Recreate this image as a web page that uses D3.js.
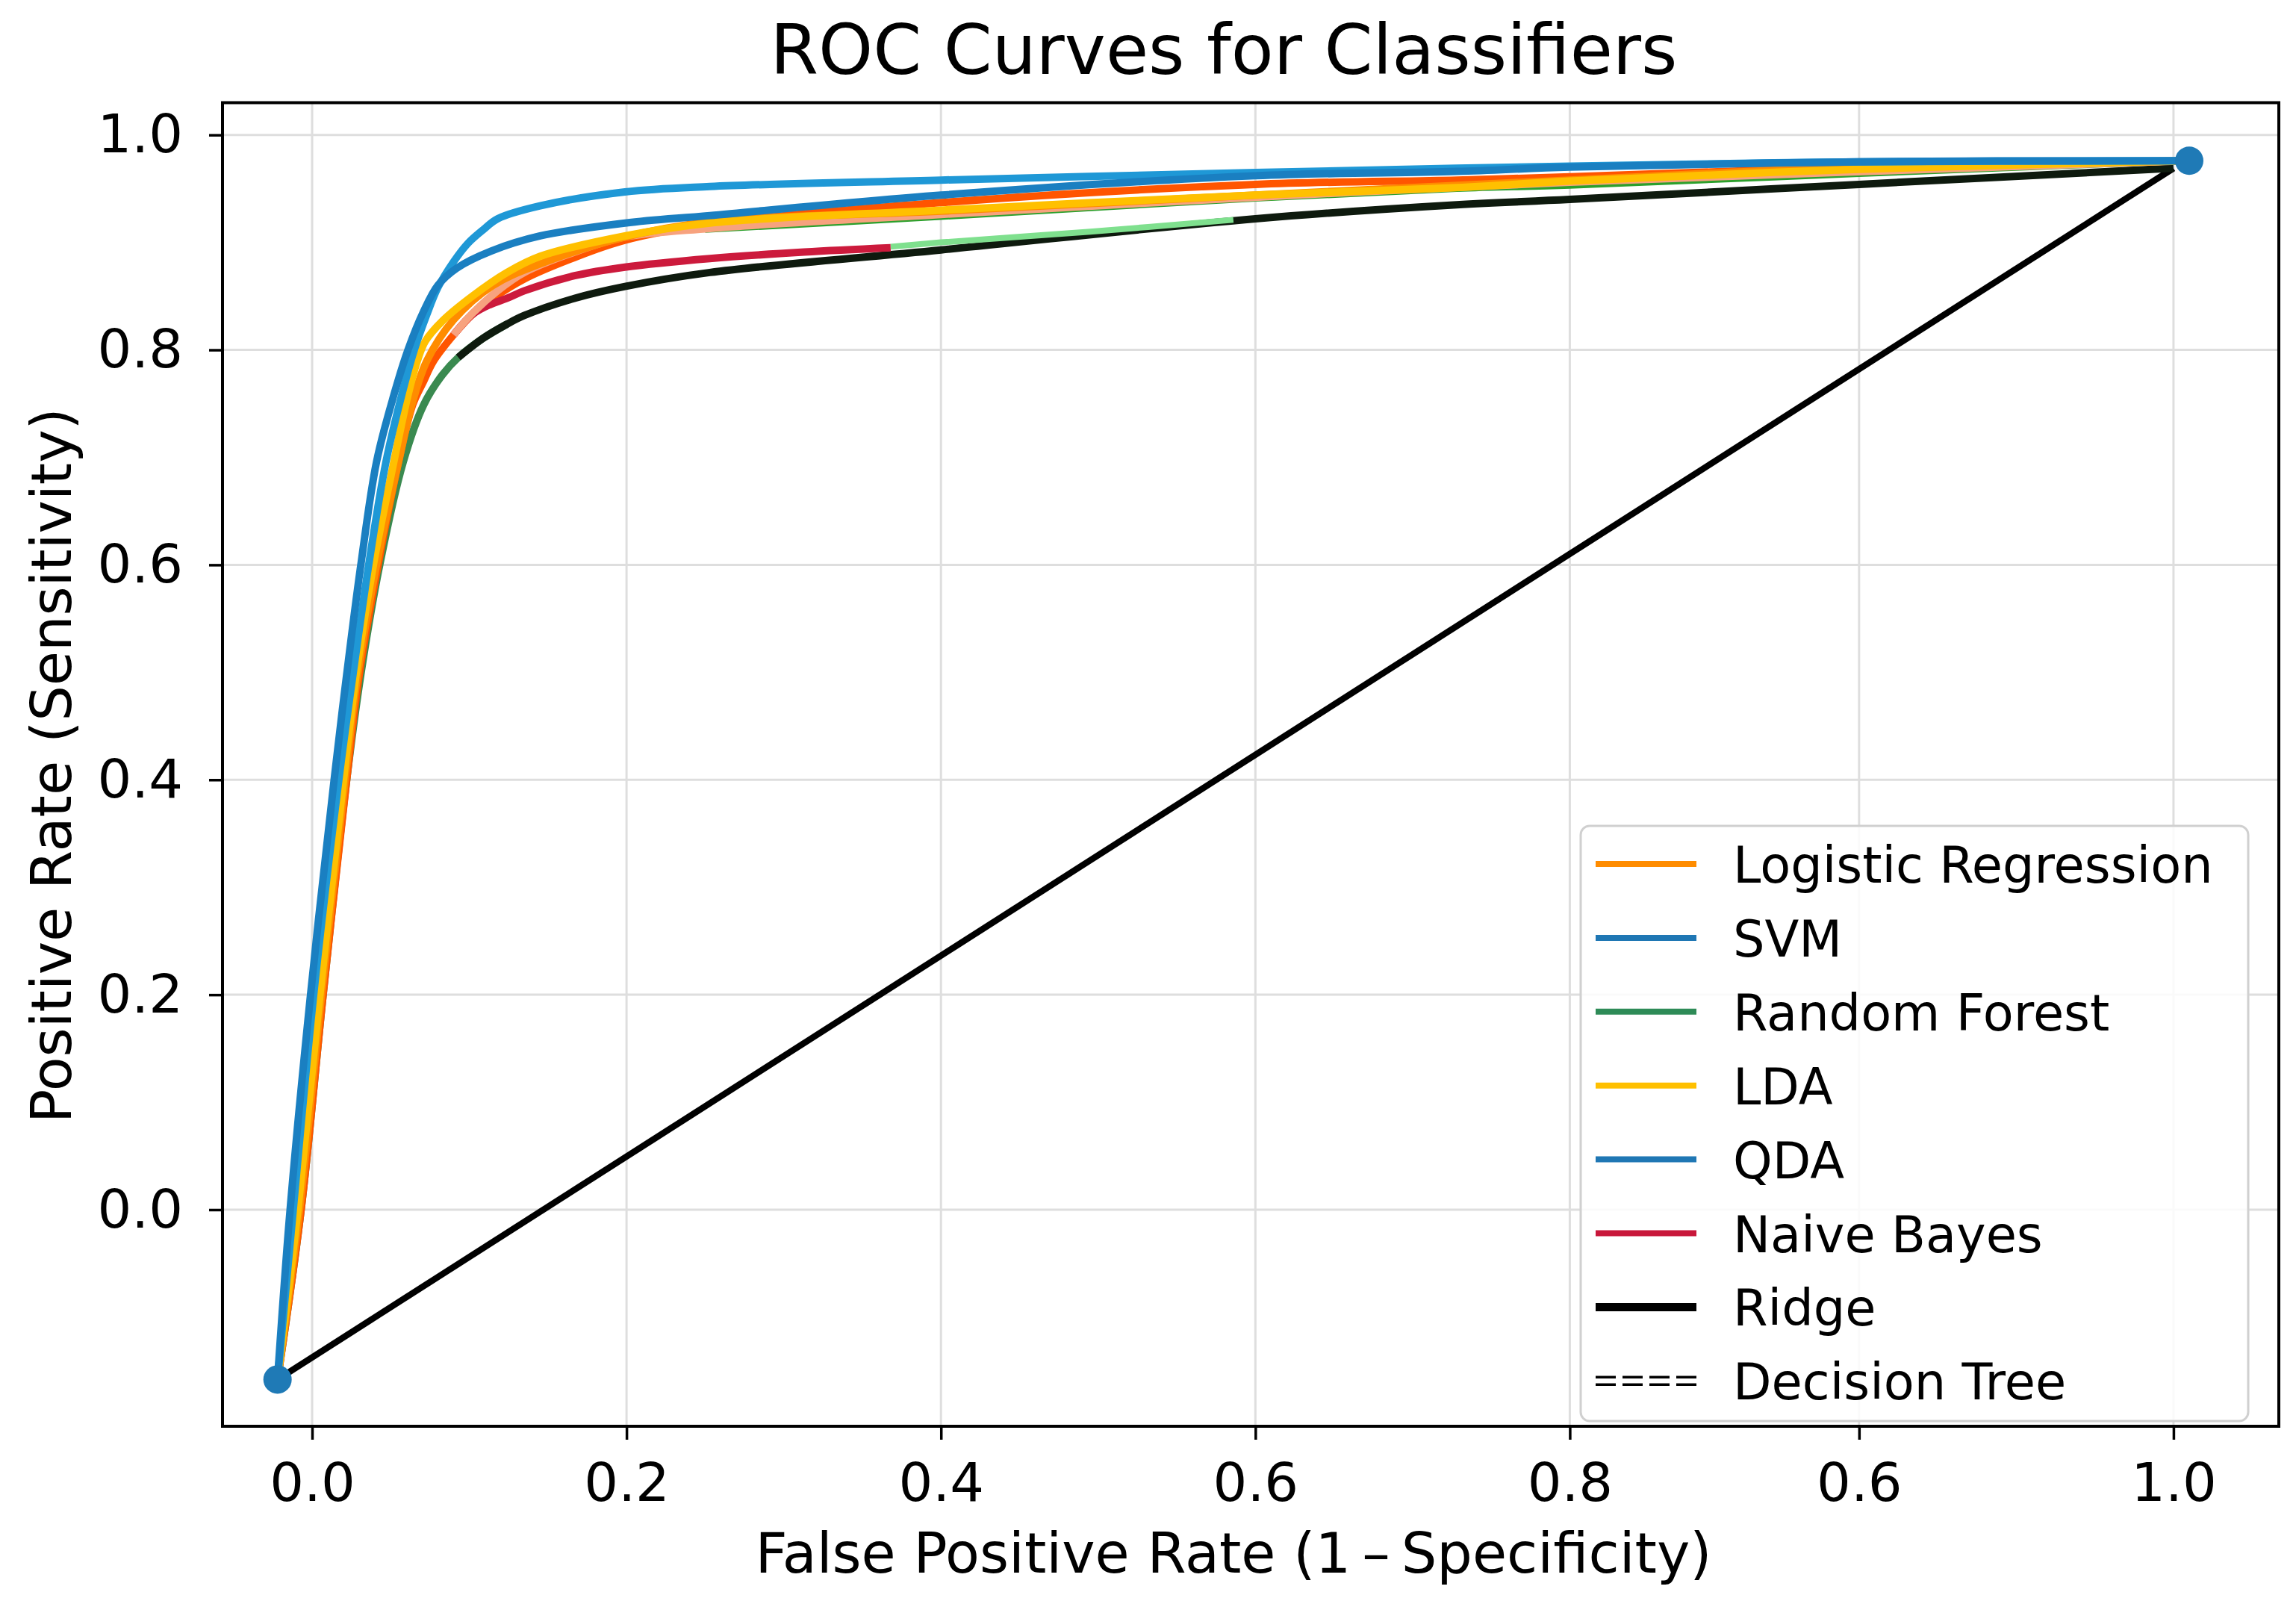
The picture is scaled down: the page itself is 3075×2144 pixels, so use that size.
<!DOCTYPE html>
<html>
<head>
<meta charset="utf-8">
<script src="https://cdn.jsdelivr.net/npm/d3@7"></script>
<style>
  body { margin: 0; background: #fff; }
  text { font-family: "DejaVu Sans", sans-serif; fill: #000; }
</style>
</head>
<body>
<div id="chart"></div>
<script>
// tick values (in plot units) and the labels printed under them
var xTickValues = [0, 0.2, 0.4, 0.6, 0.8, 0.984, 1.184];
var xTickLabels = ["0.0", "0.2", "0.4", "0.6", "0.8", "0.6", "1.0"];
var yTickValues = [0, 0.2, 0.4, 0.6, 0.8, 1.0];

// curves as [fpr, tpr]
var qdaPoints = [[-0.022,-0.158],[-0.012,0.0],[0.001,0.2],[0.017,0.4],[0.026,0.498],[0.036,0.6],[0.047,0.696],[0.057,0.758],[0.065,0.800],[0.073,0.833],[0.080,0.858],[0.090,0.882],[0.099,0.899],[0.109,0.912],[0.118,0.922],[0.145,0.934],[0.199,0.947],[0.253,0.952],[0.4,0.958],[0.6,0.965],[0.728,0.969],[0.8,0.971],[0.984,0.975],[1.194,0.976]];
var svmPoints = [[-0.022,-0.158],[-0.014,0.0],[-0.001,0.2],[0.014,0.4],[0.022,0.498],[0.031,0.6],[0.041,0.696],[0.052,0.758],[0.061,0.800],[0.071,0.836],[0.080,0.860],[0.092,0.876],[0.114,0.892],[0.145,0.906],[0.199,0.918],[0.253,0.925],[0.4,0.944],[0.6,0.962],[0.728,0.966],[0.8,0.970],[0.984,0.975],[1.194,0.976]];
var ldaPoints = [[-0.022,-0.158],[-0.009,0.0],[0.005,0.2],[0.020,0.4],[0.028,0.498],[0.039,0.6],[0.052,0.696],[0.061,0.758],[0.067,0.790],[0.072,0.808],[0.083,0.827],[0.102,0.850],[0.124,0.872],[0.145,0.887],[0.199,0.906],[0.253,0.918],[0.4,0.930],[0.6,0.944],[0.728,0.951],[0.8,0.957],[0.984,0.968],[1.194,0.976]];
var lrPoints = [[-0.022,-0.158],[-0.008,0.0],[0.006,0.2],[0.021,0.4],[0.029,0.498],[0.041,0.6],[0.055,0.696],[0.064,0.752],[0.073,0.790],[0.090,0.828],[0.115,0.860],[0.145,0.880],[0.199,0.905],[0.253,0.919],[0.4,0.929],[0.6,0.944],[0.8,0.958],[0.984,0.970],[1.194,0.976]];
var redOrangePoints = [[-0.022,-0.158],[-0.007,0.0],[0.007,0.2],[0.022,0.4],[0.030,0.498],[0.042,0.6],[0.055,0.696],[0.064,0.749],[0.071,0.771],[0.077,0.789],[0.090,0.814],[0.102,0.833],[0.115,0.848],[0.135,0.866],[0.167,0.886],[0.199,0.902],[0.253,0.917],[0.4,0.937],[0.6,0.954],[0.728,0.958],[0.8,0.961],[0.984,0.970],[1.194,0.976]];
var salmonPoints = [[0.090,0.814],[0.102,0.834],[0.118,0.855],[0.135,0.872],[0.167,0.891],[0.199,0.905],[0.253,0.913],[0.4,0.926],[0.6,0.942],[0.8,0.956],[1.194,0.976]];
var nbPoints = [[0.090,0.814],[0.102,0.833],[0.113,0.842],[0.124,0.848],[0.135,0.855],[0.167,0.869],[0.199,0.877],[0.253,0.885],[0.313,0.891],[0.368,0.895]];
var lightGreenPoints = [[0.368,0.896],[0.4,0.900],[0.495,0.910],[0.586,0.921]];
var thinGreenPoints = [[0.25,0.911],[0.4,0.923],[0.6,0.940],[0.728,0.949],[0.8,0.952],[0.984,0.963],[1.194,0.975]];
var rfPoints = [[-0.022,-0.158],[-0.007,0.0],[0.007,0.2],[0.022,0.4],[0.031,0.498],[0.043,0.6],[0.058,0.696],[0.071,0.749],[0.083,0.777],[0.093,0.793],[0.109,0.811],[0.124,0.824]];
var ridgePoints = [[0.093,0.793],[0.109,0.811],[0.124,0.824],[0.135,0.832],[0.167,0.848],[0.199,0.859],[0.253,0.872],[0.4,0.893],[0.6,0.922],[0.728,0.935],[0.8,0.940],[0.984,0.954],[1.184,0.969]];
var diagonalPoints = [[-0.022,-0.158],[1.184,0.969]];
var endPoints = [[-0.022,-0.158],[1.194,0.976]];

var legendNames = ["Logistic Regression", "SVM", "Random Forest", "LDA", "QDA", "Naive Bayes", "Ridge", "Decision Tree"];
var legendColors = ["#ff8c00", "#1f77b4", "#2e8b57", "#ffc000", "#1f77b4", "#c8173a", "#000000", "#000000"];

var W = 3075, H = 2144;
var plotLeft = 298, plotRight = 3052, plotTop = 137.5, plotBottom = 1910;

var svg = d3.select("#chart").append("svg")
    .attr("width", W)
    .attr("height", H)
    .style("background", "#fff");

var x = d3.scaleLinear().domain([-0.057, 1.251]).range([plotLeft, plotRight]);
var y = d3.scaleLinear().domain([-0.2015, 1.030]).range([plotBottom, plotTop]);

// title
svg.append("text")
    .attr("x", 1639).attr("y", 99)
    .attr("text-anchor", "middle")
    .style("font-size", "93px")
    .text("ROC Curves for Classifiers");

// grid
svg.append("g").selectAll("line").data(xTickValues).enter().append("line")
    .attr("x1", d => x(d)).attr("x2", d => x(d))
    .attr("y1", plotTop).attr("y2", plotBottom)
    .attr("stroke", "#dedede").attr("stroke-width", 3);
svg.append("g").selectAll("line").data(yTickValues).enter().append("line")
    .attr("x1", plotLeft).attr("x2", plotRight)
    .attr("y1", d => y(d)).attr("y2", d => y(d))
    .attr("stroke", "#dedede").attr("stroke-width", 3);

// axes
var xAxis = svg.append("g")
    .attr("transform", "translate(0," + plotBottom + ")")
    .call(d3.axisBottom(x).tickValues(xTickValues)
        .tickFormat((d, i) => xTickLabels[i]).tickSize(18).tickPadding(31));
var yAxis = svg.append("g")
    .attr("transform", "translate(" + plotLeft + ",0)")
    .call(d3.axisLeft(y).tickValues(yTickValues)
        .tickFormat(d3.format(".1f")).tickSize(18).tickPadding(35));
[xAxis, yAxis].forEach(function(a) {
    a.select(".domain").remove();
    a.selectAll(".tick line").attr("stroke", "#000").attr("stroke-width", 3.5);
    a.selectAll(".tick text").style("font-size", "72px").attr("fill", "#000");
});

// axis labels
svg.append("text")
    .attr("x", 1652).attr("y", 2106)
    .attr("text-anchor", "middle")
    .style("font-size", "75px")
    .text("False Positive Rate (1\u2009\u2013\u2009Specificity)");
svg.append("text")
    .attr("transform", "translate(69,1025) rotate(-90)")
    .attr("text-anchor", "middle")
    .attr("dominant-baseline", "central")
    .style("font-size", "75px")
    .text("Positive Rate (Sensitivity)");

// curves
var line = d3.line().x(d => x(d[0])).y(d => y(d[1])).curve(d3.curveCatmullRom.alpha(0.5));
var series = [
    { pts: diagonalPoints, color: "#000000", w: 8.5 },
    { pts: rfPoints, color: "#3a8a50", w: 10 },
    { pts: ridgePoints, color: "#0e1a0e", w: 10 },
    { pts: lightGreenPoints, color: "#7fe08e", w: 8 },
    { pts: thinGreenPoints, color: "#2ca02c", w: 6 },
    { pts: redOrangePoints, color: "#ff5500", w: 10 },
    { pts: nbPoints, color: "#cc1a3c", w: 10 },
    { pts: salmonPoints, color: "#f7a27e", w: 10 },
    { pts: lrPoints, color: "#ff8c00", w: 10 },
    { pts: ldaPoints, color: "#ffc000", w: 10 },
    { pts: qdaPoints, color: "#1f98d6", w: 10 },
    { pts: svmPoints, color: "#1a7fc1", w: 10 }
];
svg.append("g").selectAll("path").data(series).enter().append("path")
    .attr("d", d => line(d.pts))
    .attr("fill", "none")
    .attr("stroke", d => d.color)
    .attr("stroke-width", d => d.w)
    .attr("stroke-linejoin", "round");

// end markers
svg.append("g").selectAll("circle").data(endPoints).enter().append("circle")
    .attr("cx", d => x(d[0])).attr("cy", d => y(d[1]))
    .attr("r", 19)
    .attr("fill", "#1f7ab6");

// frame
svg.append("rect")
    .attr("x", plotLeft).attr("y", plotTop)
    .attr("width", plotRight - plotLeft).attr("height", plotBottom - plotTop)
    .attr("fill", "none").attr("stroke", "#000").attr("stroke-width", 4);

// legend
var lg = svg.append("g");
lg.append("rect")
    .attr("x", 2117).attr("y", 1106)
    .attr("width", 894).attr("height", 797)
    .attr("rx", 12)
    .attr("fill", "#fff").attr("fill-opacity", 0.85)
    .attr("stroke", "#d0d0d0").attr("stroke-width", 3);
var rows = lg.selectAll("g.row").data(legendNames).enter().append("g")
    .attr("class", "row")
    .attr("transform", (d, i) => "translate(0," + (1157 + i * 98.9) + ")");
rows.each(function(d, i) {
    var g = d3.select(this);
    if (d === "Decision Tree") {
        [-5, 5].forEach(function(off) {
            g.append("line")
                .attr("x1", 2137).attr("x2", 2272)
                .attr("y1", off).attr("y2", off)
                .attr("stroke", "#000").attr("stroke-width", 3.5)
                .attr("stroke-dasharray", "27,9");
        });
    } else {
        g.append("line")
            .attr("x1", 2137).attr("x2", 2272)
            .attr("y1", 0).attr("y2", 0)
            .attr("stroke", legendColors[i])
            .attr("stroke-width", d === "Ridge" ? 11 : 8);
    }
    g.append("text")
        .attr("x", 2321).attr("y", 25)
        .style("font-size", "67px")
        .text(d);
});
</script>
</body>
</html>
